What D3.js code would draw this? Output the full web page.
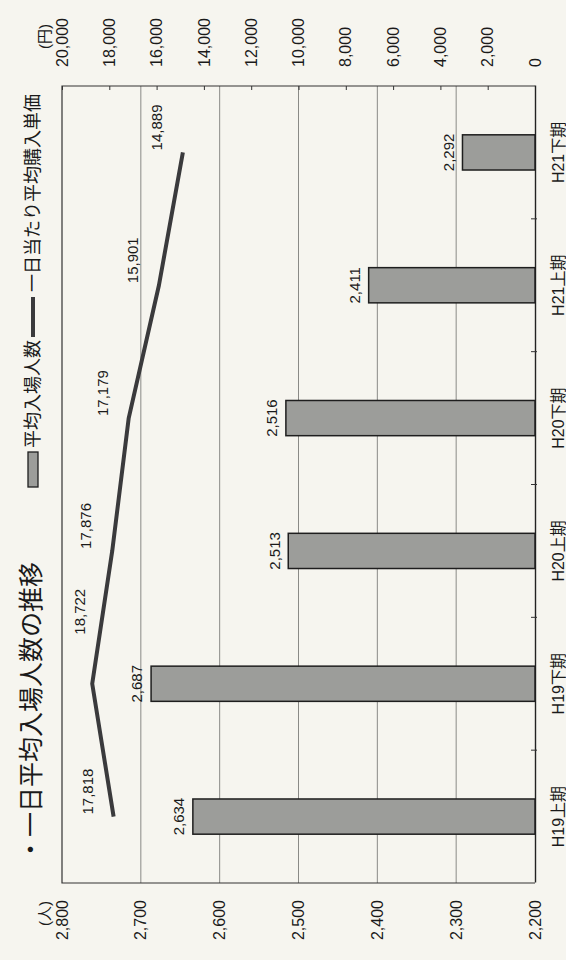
<!DOCTYPE html>
<html>
<head>
<meta charset="utf-8">
<script src="https://cdn.jsdelivr.net/npm/d3@7"></script>
<style>
  body { margin: 0; background: #f6f5ef; }
  svg { display: block; }
  text { font-family: "Liberation Sans", Arial, "Noto Sans CJK JP", sans-serif; fill: #1a1a1a; }
</style>
</head>
<body>
<svg id="chart" width="566" height="960"></svg>
<script>
// half-year periods
const categories = ['H19上期', 'H19下期', 'H20上期', 'H20下期', 'H21上期', 'H21下期'];
// 一日平均入場人数 (人)
const visitors = [2634, 2687, 2513, 2516, 2411, 2292];
// 一日当たり平均購入単価 (円)
const unitPrice = [17818, 18722, 17876, 17179, 15901, 14889];
const visitorTicks = [2200, 2300, 2400, 2500, 2600, 2700, 2800];
const priceTicks = [0, 2000, 4000, 6000, 8000, 10000, 12000, 14000, 16000, 18000, 20000];

const title = '・一日平均入場人数の推移';
const legendBar = '平均入場人数';
const legendLine = '一日当たり平均購入単価';

const svg = d3.select('#chart');
svg.append('rect').attr('width', 566).attr('height', 960).attr('fill', '#f6f5ef');

// chart is drawn in its normal orientation, then turned a quarter turn
const width = 797;
const height = 473;
const g = svg.append('g')
  .attr('transform', 'translate(62,883) rotate(-90)');

const x = d3.scaleBand()
  .domain(categories)
  .range([0, width])
  .paddingInner(0.735)
  .paddingOuter(0.3675);

const step = x.step();
const yLeft = d3.scaleLinear().domain([2200, 2800]).range([height, 0]);
const yRight = d3.scaleLinear().domain([0, 20000]).range([height, 0]);
const fmt = d3.format(',');

// gridlines
g.append('g')
  .selectAll('line')
  .data(visitorTicks.slice(1, -1))
  .enter()
  .append('line')
  .attr('x1', 0)
  .attr('x2', width)
  .attr('y1', d => yLeft(d))
  .attr('y2', d => yLeft(d))
  .attr('stroke', '#8a8a86')
  .attr('stroke-width', 1);

// frame
g.append('path')
  .attr('d', `M0,${height}V0H${width}V${height}`)
  .attr('fill', 'none')
  .attr('stroke', '#333')
  .attr('stroke-width', 1.2);

// left axis
const leftAxis = g.append('g')
  .call(d3.axisLeft(yLeft).tickValues(visitorTicks).tickFormat(fmt).tickSize(0).tickPadding(17));
leftAxis.select('.domain').remove();
leftAxis.selectAll('text')
  .style('font-size', '16px')
  .style('fill', '#1a1a1a');

g.append('text')
  .attr('x', -18)
  .attr('y', -12)
  .attr('text-anchor', 'end')
  .style('font-size', '15px')
  .text('(人)');

// right axis
const rightAxis = g.append('g')
  .attr('transform', `translate(${width},0)`)
  .call(d3.axisRight(yRight).tickValues(priceTicks).tickFormat(fmt).tickSize(-4).tickPadding(19));
rightAxis.select('.domain').remove();
rightAxis.selectAll('line').attr('stroke', '#333');
rightAxis.selectAll('text')
  .style('font-size', '16px')
  .style('fill', '#1a1a1a');

g.append('text')
  .attr('x', width + 62)
  .attr('y', -12)
  .attr('text-anchor', 'end')
  .style('font-size', '15px')
  .text('(円)');

// category axis
const bottomAxis = g.append('g')
  .attr('transform', `translate(0,${height})`)
  .call(d3.axisBottom(x).tickSize(0).tickPadding(18));
bottomAxis.select('.domain')
  .attr('stroke', '#222')
  .attr('stroke-width', 1.4);
bottomAxis.selectAll('text')
  .style('font-size', '16px')
  .style('fill', '#1a1a1a');

// ticks between categories
g.append('g')
  .selectAll('line')
  .data(categories.slice(1))
  .enter()
  .append('line')
  .attr('x1', d => x(d) - (step - x.bandwidth()) / 2)
  .attr('x2', d => x(d) - (step - x.bandwidth()) / 2)
  .attr('y1', height - 4)
  .attr('y2', height + 2)
  .attr('stroke', '#333');

// bars
g.selectAll('.bar')
  .data(visitors)
  .enter()
  .append('rect')
  .attr('class', 'bar')
  .attr('x', (d, i) => x(categories[i]))
  .attr('width', x.bandwidth())
  .attr('y', d => yLeft(d))
  .attr('height', d => height - yLeft(d))
  .attr('fill', '#9c9d9a')
  .attr('stroke', '#1e1e1e')
  .attr('stroke-width', 1.5);

g.selectAll('.bar-label')
  .data(visitors)
  .enter()
  .append('text')
  .attr('class', 'bar-label')
  .attr('x', (d, i) => x(categories[i]) + x.bandwidth() / 2)
  .attr('y', d => yLeft(d) - 14)
  .attr('dy', '0.35em')
  .attr('text-anchor', 'middle')
  .style('font-size', '15px')
  .text(fmt);

// line
const cx = i => x(categories[i]) + x.bandwidth() / 2;
const line = d3.line()
  .x((d, i) => cx(i))
  .y(d => yRight(d));

g.append('path')
  .datum(unitPrice)
  .attr('fill', 'none')
  .attr('stroke', '#3a3a3c')
  .attr('stroke-width', 4)
  .attr('stroke-linejoin', 'round')
  .attr('d', line);

// labels sit above the line; the peak one is pushed sideways to clear it
const isPeak = i => i > 0 && i < unitPrice.length - 1 &&
  unitPrice[i] > unitPrice[i - 1] && unitPrice[i] > unitPrice[i + 1];

g.selectAll('.line-label')
  .data(unitPrice)
  .enter()
  .append('text')
  .attr('class', 'line-label')
  .attr('x', (d, i) => cx(i) + (isPeak(i) ? 72 : 25))
  .attr('y', (d, i) => yRight(d) - (isPeak(i) ? 12 : 26))
  .attr('dy', '0.35em')
  .attr('text-anchor', 'middle')
  .style('font-size', '15px')
  .text(fmt);

// title and legend above the plot
g.append('text')
  .attr('x', 21)
  .attr('y', -22)
  .style('font-size', '25px')
  .text(title);

const legend = g.append('g').attr('transform', 'translate(396,-29)');
legend.append('rect')
  .attr('x', 0)
  .attr('y', -5)
  .attr('width', 35)
  .attr('height', 10)
  .attr('fill', '#9c9d9a')
  .attr('stroke', '#1e1e1e')
  .attr('stroke-width', 1.3);
legend.append('text')
  .attr('x', 39)
  .attr('dy', '0.35em')
  .style('font-size', '18px')
  .text(legendBar);
legend.append('line')
  .attr('x1', 150)
  .attr('x2', 190)
  .attr('stroke', '#3a3a3c')
  .attr('stroke-width', 4);
legend.append('text')
  .attr('x', 195)
  .attr('dy', '0.35em')
  .style('font-size', '18px')
  .text(legendLine);
</script>
</body>
</html>
